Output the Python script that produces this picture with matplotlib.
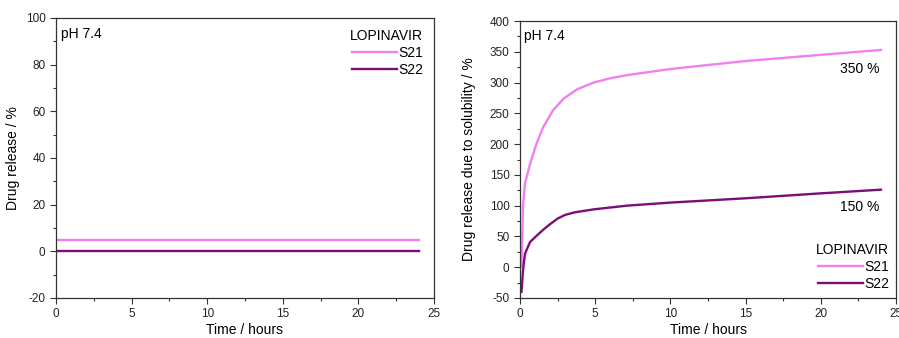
import matplotlib
matplotlib.use("Agg")
import matplotlib.pyplot as plt
from matplotlib.ticker import MultipleLocator

plt.rcParams['font.family'] = ['Liberation Sans', 'DejaVu Sans']
plt.rcParams['axes.unicode_minus'] = False

# left panel: drug release
t_flat = [0, 24]
s21_flat = [5, 5]
s22_flat = [0, 0]

# right panel: drug release due to solubility
t_s21 = [0.1, 0.2, 0.33, 0.67, 1.1, 1.55, 2.2, 2.9, 3.8, 4.9, 6.0, 7.1, 10, 15, 20, 24]
s21 = [1, 100, 136, 168, 201, 228, 255, 274, 289, 300, 307, 312, 322, 335, 345, 353]
t_s22 = [0.1, 0.2, 0.33, 0.67, 1.1, 1.55, 2.0, 2.5, 3.0, 3.6, 4.9, 7.1, 10, 15, 20, 24]
s22 = [-40, -5, 22, 41, 51, 61, 70, 79, 85, 89, 94, 100, 105, 112, 120, 126]

C21 = '#f07ff0'
C22 = '#7a0f78'

fig = plt.figure(figsize=(8.99, 3.38), dpi=100)
ax1 = fig.add_axes([56/899, 1-298/338, (434-56)/899, (298-18)/338])
ax2 = fig.add_axes([520/899, 1-298/338, (896-520)/899, (298-21)/338])

ax1.plot(t_flat, s21_flat, color=C21, lw=1.7, label='S21')
ax1.plot(t_flat, s22_flat, color=C22, lw=1.7, label='S22')
ax1.set_xlim(0, 25)
ax1.set_ylim(-20, 100)
ax1.yaxis.set_major_locator(MultipleLocator(20))
ax1.yaxis.set_minor_locator(MultipleLocator(10))
ax1.set_ylabel('Drug release / %', fontsize=10)
ax1.text(0.013, 0.968, 'pH 7.4', transform=ax1.transAxes, fontsize=10, va='top')
leg1 = ax1.legend(loc='upper right', title='LOPINAVIR', frameon=False, fontsize=10,
                  title_fontsize=10, handlelength=3.2, handletextpad=0.1,
                  borderaxespad=0.4, labelspacing=0.2)
leg1._legend_box.align = 'right'

ax2.plot(t_s21, s21, color=C21, lw=1.7, label='S21')
ax2.plot(t_s22, s22, color=C22, lw=1.7, label='S22')
ax2.set_xlim(0, 25)
ax2.set_ylim(-50, 400)
ax2.yaxis.set_major_locator(MultipleLocator(50))
ax2.yaxis.set_minor_locator(MultipleLocator(25))
ax2.set_ylabel('Drug release due to solubility / %', fontsize=10, labelpad=10)
ax2.text(0.011, 0.971, 'pH 7.4', transform=ax2.transAxes, fontsize=10, va='top')
ax2.text(22.6, 322, '350 %', fontsize=10, ha='center', va='center')
ax2.text(22.6, 98, '150 %', fontsize=10, ha='center', va='center')
leg2 = ax2.legend(loc='lower right', title='LOPINAVIR', frameon=False, fontsize=10,
                  title_fontsize=10, handlelength=3.2, handletextpad=0.1,
                  borderaxespad=0.1, labelspacing=0.2)
leg2._legend_box.align = 'right'

for ax in (ax1, ax2):
    ax.xaxis.set_major_locator(MultipleLocator(5))
    ax.xaxis.set_minor_locator(MultipleLocator(2.5))
    ax.set_xlabel('Time / hours', fontsize=10, labelpad=2)
    ax.tick_params(which='major', direction='out', length=4, width=0.8, labelsize=8.5,
                   colors='#333333', labelcolor='#222222')
    ax.tick_params(which='minor', direction='out', length=2, width=0.8, colors='#333333')
    for s in ax.spines.values():
        s.set_linewidth(0.9)
        s.set_color('#333333')

fig.savefig('out.png', dpi=100)
